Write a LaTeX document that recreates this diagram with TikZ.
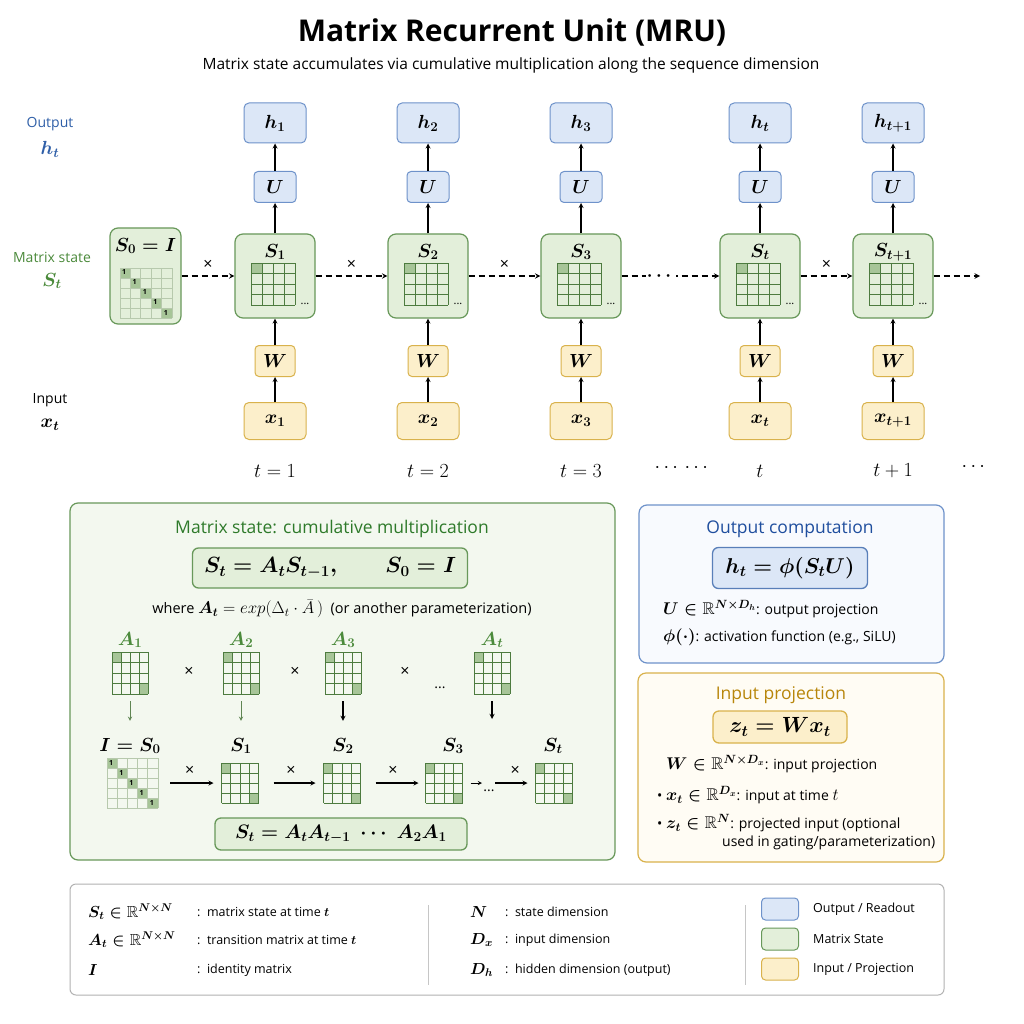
\RequirePackage{fix-cm}
\documentclass[tikz,border=0pt]{standalone}
\usepackage{amsmath,amssymb}
\usepackage{fontspec}
\setmainfont{Open Sans}
\usepackage{xcolor}
\usetikzlibrary{positioning,arrows.meta}

\definecolor{outblue}{HTML}{2F5FA8}
\definecolor{titleblue}{HTML}{1F4E9E}
\definecolor{outfill}{HTML}{DCE7F7}
\definecolor{outdraw}{HTML}{6E92CA}
\definecolor{panelblue}{HTML}{F8FAFE}
\definecolor{stgreen}{HTML}{4B8A3B}
\definecolor{titlegreen}{HTML}{2E7A2A}
\definecolor{stfill}{HTML}{E3EFDA}
\definecolor{stdraw}{HTML}{68985A}
\definecolor{panelgreen}{HTML}{F3F8EF}
\definecolor{infill}{HTML}{FCEFCB}
\definecolor{indraw}{HTML}{D9B24C}
\definecolor{titlegold}{HTML}{B8860B}
\definecolor{panelgold}{HTML}{FFFCF4}
\definecolor{cellfill}{HTML}{A7C598}
\definecolor{griddark}{HTML}{4D7B3F}
\definecolor{gridlight}{HTML}{B7C9AD}
\definecolor{arrgreen}{HTML}{5F8552}

\newcommand{\fsz}[1]{\fontsize{#1}{#1}\selectfont}

% 4x4 matrix: [corner fill]{name}{centre}{cell w}{cell h}
\newcommand{\matgrid}[5][fill=none]{%
  \node[gridhold, minimum width={4*#4}, minimum height={4*#5}] (#2) at (#3) {};
  \begin{scope}[shift={(#2.north west)}]
    \fill[cellfill] (0,0) rectangle (#4,#5);
    \fill[#1] ({3*#4},{3*#5}) rectangle ({4*#4},{4*#5});
    \foreach \k in {0,...,4} {
      \draw[griddark, line width=0.9pt] ({\k*#4},0) -- ({\k*#4},{4*#5});
      \draw[griddark, line width=0.9pt] (0,{\k*#5}) -- ({4*#4},{\k*#5});
    }
  \end{scope}}

% 5x5 identity: {name}{centre}{cell w}{cell h}
\newcommand{\idgrid}[4]{%
  \node[gridhold, minimum width={5*#3}, minimum height={5*#4}] (#1) at (#2) {};
  \begin{scope}[shift={(#1.north west)}]
    \foreach \k in {0,...,4} {
      \fill[cellfill] ({\k*#3},{\k*#4}) rectangle ++(#3,#4);
      \node[font=\fsz{7}\bfseries, inner sep=0pt] (#1-\k) at ({(\k+0.4)*#3},{(\k+0.45)*#4}) {1};
    }
    \foreach \k in {0,...,5} {
      \draw[gridlight, line width=0.8pt] ({\k*#3},0) -- ({\k*#3},{5*#4});
      \draw[gridlight, line width=0.8pt] (0,{\k*#4}) -- ({5*#3},{\k*#4});
    }
  \end{scope}}

\begin{document}
\begin{tikzpicture}[x=1pt, y=-1pt,
  readout/.style={draw=outdraw, fill=outfill, rounded corners=5pt, line width=1pt, minimum width=62pt, minimum height=40pt, font=\fsz{19}\boldmath},
  umat/.style={draw=outdraw, fill=outfill, rounded corners=4pt, line width=1pt, minimum width=42pt, minimum height=31pt, font=\fsz{19}\boldmath},
  statebox/.style={draw=stdraw, fill=stfill, rounded corners=8pt, line width=1.2pt, minimum width=80pt, minimum height=84pt},
  wmat/.style={draw=indraw, fill=infill, rounded corners=4pt, line width=1pt, minimum width=40pt, minimum height=31pt, font=\fsz{19}\boldmath},
  inbox/.style={draw=indraw, fill=infill, rounded corners=5pt, line width=1pt, minimum width=62pt, minimum height=37pt, font=\fsz{19}\boldmath},
  symb/.style={font=\fsz{19}\boldmath, inner sep=1pt},
  steplbl/.style={font=\fsz{20}},
  sidelbl/.style={font=\fsz{14}},
  feed/.style={->, >=stealth, line width=1.2pt},
  carry/.style={->, >=stealth, line width=1.4pt, dash pattern=on 6pt off 4pt},
  mult/.style={font=\fsz{16}, inner sep=1pt},
  flow/.style={->, >=stealth, line width=1.2pt},
  gdown/.style={->, >=stealth, line width=0.9pt, arrgreen, shorten <=7pt, shorten >=16pt},
  kdown/.style={->, >=stealth, line width=1.3pt, shorten <=7pt},
  gridhold/.style={inner sep=0pt, outer sep=0pt},
  cdots/.style={font=\fsz{11}, inner sep=0pt},
  panel/.style={rounded corners=8pt, line width=1.2pt},
  formula/.style={rounded corners=6pt, line width=1.3pt, font=\fsz{22}\boldmath},
  ptitle/.style={font=\fsz{17.5}},
  body/.style={font=\fsz{14}, anchor=west, inner sep=0pt},
  legsym/.style={font=\fsz{16}\boldmath, anchor=west, inner sep=0pt},
  legtxt/.style={font=\fsz{12.5}, anchor=west, inner sep=0pt},
  swatch/.style={rounded corners=4pt, line width=1pt, minimum width=37pt, minimum height=22pt},
  divider/.style={draw=gray!45, line width=0.8pt},
]
  \fill[white] (0,0) rectangle (1024,1024);
  \useasboundingbox (0,0) rectangle (1024,1024);

  % Title
  \node[font=\fsz{30}\bfseries] (title) at (512,32) {Matrix Recurrent Unit (MRU)};
  \node[font=\fsz{15.5}] (subtitle) at (511,65) {Matrix state accumulates via cumulative multiplication along the sequence dimension};

  % Row labels
  \node[sidelbl, text=outblue] (outlbl) at (50,124) {Output};
  \node[symb, text=outblue] (outsym) at (50,149) {$h_t$};
  \node[sidelbl, text=stgreen] (stlbl) at (52,257) {Matrix state};
  \node[symb, text=stgreen] (stsym) at (52,281) {$S_t$};
  \node[sidelbl] (inlbl) at (50,400) {Input};
  \node[symb] (insym) at (50,425) {$x_t$};

  % Initial state
  \node[statebox, minimum width=71pt, minimum height=96pt] (s0) at (145.5,276) {};
  \node[symb] (s0n) at (145.5,246) {$S_0 = I$};
  \idgrid{i0}{146,293}{10.4}{10}

  % Step 1
  \node[readout] (h1) at (275,123) {$h_1$};
  \node[umat] (u1) at (275,187) {$U$};
  \node[statebox] (s1) at (275,276) {};
  \node[symb] (s1n) at (275,252) {$S_1$};
  \matgrid{g1}{273,284}{11}{10.5}
  \node[cdots] (s1d) at (305,304) {...};
  \node[wmat] (w1) at (275,361) {$W$};
  \node[inbox] (x1) at (275,421) {$x_1$};
  \node[steplbl] (t1) at (275,471) {$t = 1$};

  % Step 2
  \node[readout] (h2) at (428,123) {$h_2$};
  \node[umat] (u2) at (428,187) {$U$};
  \node[statebox] (s2) at (428,276) {};
  \node[symb] (s2n) at (428,252) {$S_2$};
  \matgrid{g2}{426,284}{11}{10.5}
  \node[cdots] (s2d) at (458,304) {...};
  \node[wmat] (w2) at (428,361) {$W$};
  \node[inbox] (x2) at (428,421) {$x_2$};
  \node[steplbl] (t2) at (428,471) {$t = 2$};

  % Step 3
  \node[readout] (h3) at (581,123) {$h_3$};
  \node[umat] (u3) at (581,187) {$U$};
  \node[statebox] (s3) at (581,276) {};
  \node[symb] (s3n) at (581,252) {$S_3$};
  \matgrid{g3}{579,284}{11}{10.5}
  \node[cdots] (s3d) at (611,304) {...};
  \node[wmat] (w3) at (581,361) {$W$};
  \node[inbox] (x3) at (581,421) {$x_3$};
  \node[steplbl] (t3) at (581,471) {$t = 3$};

  % Step t
  \node[readout] (ht) at (760,123) {$h_t$};
  \node[umat] (ut) at (760,187) {$U$};
  \node[statebox] (st) at (760,276) {};
  \node[symb] (stn) at (760,252) {$S_t$};
  \matgrid{gt}{758,284}{11}{10.5}
  \node[cdots] (std) at (790,304) {...};
  \node[wmat] (wt) at (760,361) {$W$};
  \node[inbox] (xt) at (760,421) {$x_t$};
  \node[steplbl] (tt) at (760,471) {$t$};

  % Step t+1
  \node[readout] (hn) at (893,123) {$h_{t+1}$};
  \node[umat] (un) at (893,187) {$U$};
  \node[statebox] (sn) at (893,276) {};
  \node[symb] (snn) at (893,252) {$S_{t+1}$};
  \matgrid{gn}{891,284}{11}{10.5}
  \node[cdots] (snd) at (923,304) {...};
  \node[wmat] (wn) at (893,361) {$W$};
  \node[inbox] (xn) at (893,421) {$x_{t+1}$};
  \node[steplbl] (tn) at (893,471) {$t + 1$};

  \node[steplbl] (tdots) at (683,468) {$\cdots\,\cdots$};
  \node[steplbl] (tend) at (975,467) {$\cdots$};

  % Vertical flow
  \draw[feed] (x1) -- (w1); \draw[feed] (w1) -- (s1); \draw[feed] (s1) -- (u1); \draw[feed] (u1) -- (h1);
  \draw[feed] (x2) -- (w2); \draw[feed] (w2) -- (s2); \draw[feed] (s2) -- (u2); \draw[feed] (u2) -- (h2);
  \draw[feed] (x3) -- (w3); \draw[feed] (w3) -- (s3); \draw[feed] (s3) -- (u3); \draw[feed] (u3) -- (h3);
  \draw[feed] (xt) -- (wt); \draw[feed] (wt) -- (st); \draw[feed] (st) -- (ut); \draw[feed] (ut) -- (ht);
  \draw[feed] (xn) -- (wn); \draw[feed] (wn) -- (sn); \draw[feed] (sn) -- (un); \draw[feed] (un) -- (hn);

  % State chain
  \draw[carry] (s0) -- node[mult, above=5pt] (m1) {×} (s1);
  \draw[carry] (s1) -- node[mult, above=5pt] (m2) {×} (s2);
  \draw[carry] (s2) -- node[mult, above=5pt] (m3) {×} (s3);
  \draw[carry] (s3) -- node[fill=white, font=\fsz{18}\boldmath, inner sep=1pt, pos=0.4] (gap) {$\cdots$} (st);
  \draw[carry] (st) -- node[mult, above=5pt] (m4) {×} (sn);
  \coordinate (tail) at (980,276);
  \draw[carry] (sn) -- (tail);

  % Cumulative multiplication panel
  \node[panel, draw=stdraw, fill=panelgreen, minimum width=545pt, minimum height=357pt] (cumpanel) at (342.5,681.5) {};
  \node[ptitle, text=titlegreen] (cumtitle) at (332,529) {Matrix state: cumulative multiplication};
  \node[formula, draw=stdraw, fill=stfill, minimum width=275pt, minimum height=40pt] (recur) at (330,568) {$S_t = A_t S_{t-1}, \qquad S_0 = I$};
  \node[font=\fsz{14.5}] (where) at (342,609) {where {\fsz{17}$\boldsymbol{A_t} = exp(\Delta_t \cdot \bar{A}\,)$}\ \ (or another parameterization)};

  \node[symb, text=stgreen] (a1n) at (130,640) {$A_1$};
  \node[symb, text=stgreen] (a2n) at (241,640) {$A_2$};
  \node[symb, text=stgreen] (a3n) at (343,640) {$A_3$};
  \node[symb, text=stgreen] (atn) at (492,640) {$A_t$};
  \matgrid[cellfill]{a1}{130,673}{9}{10.5}
  \matgrid[cellfill]{a2}{241,673}{9}{10.5}
  \matgrid[cellfill]{a3}{343,673}{9}{10.5}
  \matgrid[cellfill]{agt}{492,673}{9}{10.5}
  \node[mult] (am1) at (189,672) {×};
  \node[mult] (am2) at (295,672) {×};
  \node[mult] (am3) at (405,672) {×};
  \node[cdots, font=\fsz{14}] (adots) at (440,688) {...};

  \node[symb] (b0n) at (130,746) {$I = S_0$};
  \node[symb] (b1n) at (241,746) {$S_1$};
  \node[symb] (b2n) at (343,746) {$S_2$};
  \node[symb] (b3n) at (453,746) {$S_3$};
  \node[symb] (btn) at (553,746) {$S_t$};
  \coordinate (atend) at (492,719);

  \draw[gdown] (a1) -- (b0n);
  \draw[gdown] (a2) -- (b1n);
  \draw[kdown, shorten >=16pt] (a3) -- (b2n);
  \draw[kdown] (agt) -- (atend);

  \idgrid{b0}{132.5,783}{10.2}{10}
  \matgrid[cellfill]{b1}{240,783}{9.25}{10}
  \matgrid[cellfill]{b2}{342,783}{9.25}{10}
  \matgrid[cellfill]{b3}{444,783}{9.25}{10}
  \matgrid[cellfill]{bt}{554,783}{9.25}{10}

  \draw[flow, shorten <=12pt, shorten >=8pt] (b0) -- node[mult, above=6pt] (p1) {×} (b1);
  \draw[flow, shorten <=15pt, shorten >=8pt] (b1) -- node[mult, above=6pt] (p2) {×} (b2);
  \draw[flow, shorten <=15pt, shorten >=7pt] (b2) -- node[mult, above=6pt] (p3) {×} (b3);
  \coordinate (bd1) at (482,783);
  \coordinate (bd2) at (495,783);
  \draw[flow, line width=0.9pt, shorten <=8pt] (b3) -- (bd1);
  \node[cdots, font=\fsz{14}] (bdots) at (489,791) {...};
  \draw[flow, shorten >=8pt] (bd2) -- node[mult, above=6pt] (p4) {×} (bt);

  \node[formula, draw=stdraw, fill=stfill, minimum width=252pt, minimum height=32pt, font=\fsz{19.5}\boldmath] (prod) at (341,834) {$S_t = A_t A_{t-1} \;\cdots\; A_2 A_1$};

  % Output computation panel
  \node[panel, draw=outdraw, fill=panelblue, minimum width=305pt, minimum height=158pt] (outpanel) at (791.5,584) {};
  \node[ptitle, text=titleblue] (outtitle) at (790,529) {Output computation};
  \node[formula, draw=outblue!80, fill=outfill, minimum width=155pt, minimum height=41pt, font=\fsz{21.5}\boldmath] (outeq) at (790,568) {$h_t = \phi(S_t U)$};
  \node[body] (outl1) at (663,609) {{\fsz{17}\boldmath$U \in \mathbb{R}^{N\times D_h}$}: output projection};
  \node[body] (outl2) at (663,637) {{\fsz{17}\boldmath$\phi(\cdot)$}: activation function (e.g., SiLU)};

  % Input projection panel
  \node[panel, draw=indraw, fill=panelgold, minimum width=306pt, minimum height=189pt] (inpanel) at (791,767.5) {};
  \node[ptitle, text=titlegold] (intitle) at (781,695) {Input projection};
  \node[formula, draw=indraw, fill=infill, minimum width=134pt, minimum height=32pt] (ineq) at (780,727) {$z_t = W x_t$};
  \node[body] (inl1) at (666,764) {{\fsz{17}\boldmath$W \in \mathbb{R}^{N\times D_x}$}: input projection};
  \node[body] (inl2) at (657,795) {• {\fsz{17}\boldmath$x_t \in \mathbb{R}^{D_x}$}: input at time {\fsz{17}$t$}};
  \node[body] (inl3) at (657,823) {• {\fsz{17}\boldmath$z_t \in \mathbb{R}^{N}$}: projected input (optional};
  \node[body] (inl4) at (722,843) {used in gating/parameterization)};

  % Legend
  \node[panel, draw=gray!60, fill=white, rounded corners=6pt, line width=1pt, minimum width=874pt, minimum height=111pt] (legend) at (507,939.5) {};
  \node[legsym] (ls1) at (88,912) {$S_t \in \mathbb{R}^{N\times N}$};
  \node[legsym] (ls2) at (88,940) {$A_t \in \mathbb{R}^{N\times N}$};
  \node[legsym] (ls3) at (88,970) {$I$};
  \node[legtxt] (lt1) at (197,912) {{:}\ \ matrix state at time $\boldsymbol{t}$};
  \node[legtxt] (lt2) at (197,940) {{:}\ \ transition matrix at time $\boldsymbol{t}$};
  \node[legtxt] (lt3) at (197,970) {{:}\ \ identity matrix};
  \draw[divider] (428,905) -- (428,985);
  \node[legsym] (ld1) at (470,912) {$N$};
  \node[legsym] (ld2) at (470,940) {$D_x$};
  \node[legsym] (ld3) at (470,970) {$D_h$};
  \node[legtxt] (le1) at (505,912) {{:}\ \ state dimension};
  \node[legtxt] (le2) at (505,940) {{:}\ \ input dimension};
  \node[legtxt] (le3) at (505,970) {{:}\ \ hidden dimension (output)};
  \draw[divider] (745,905) -- (745,985);
  \node[swatch, draw=outdraw, fill=outfill] (sw1) at (780,909) {};
  \node[swatch, draw=stdraw, fill=stfill] (sw2) at (780,939) {};
  \node[swatch, draw=indraw, fill=infill] (sw3) at (780,969) {};
  \node[legtxt] (sl1) at (813,909) {Output / Readout};
  \node[legtxt] (sl2) at (813,939) {Matrix State};
  \node[legtxt] (sl3) at (813,969) {Input / Projection};

\end{tikzpicture}
\end{document}
